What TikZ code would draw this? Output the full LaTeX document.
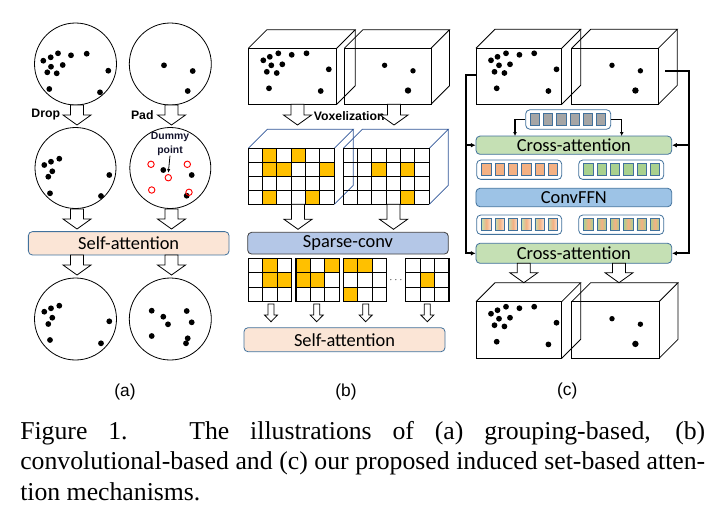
\documentclass[tikz,border=0pt]{standalone}
\usepackage{fontspec}
\setmainfont{Liberation Serif}
\newfontfamily\arialfont{Liberation Sans}
\newfontfamily\calfont{Carlito}
\usetikzlibrary{arrows.meta}
\definecolor{peach}{RGB}{251,229,214}
\definecolor{boxline}{RGB}{65,113,156}
\definecolor{sparseblue}{RGB}{180,199,231}
\definecolor{crossgreen}{RGB}{197,224,180}
\definecolor{ffnblue}{RGB}{157,195,230}
\definecolor{tokorange}{RGB}{244,177,131}
\definecolor{tokgreen}{RGB}{169,209,142}
\definecolor{tokgray}{RGB}{165,165,165}
\definecolor{voxyellow}{RGB}{255,192,0}
\definecolor{voxedge}{RGB}{47,85,151}
\definecolor{dummyred}{RGB}{255,0,0}
\definecolor{dummyblue}{RGB}{20,20,45}
\tikzset{
  cloud/.style={line width=0.6pt},
  opbox/.style={rounded corners=3pt, line width=0.6pt, inner sep=0pt, text=black, font=\calfont\fontsize{13.8}{16}\selectfont},
  selfbox/.style={opbox, draw=boxline, fill=peach},
  sparsebox/.style={opbox, draw=black!75, fill=sparseblue},
  crossbox/.style={opbox, draw=boxline, fill=crossgreen, minimum width=146.8pt},
  ffnbox/.style={opbox, draw=boxline, fill=ffnblue, minimum width=146.8pt},
  tokrow/.style={draw=boxline, fill=white, rounded corners=3pt, line width=0.6pt, minimum width=63.75pt, minimum height=14.5pt, inner sep=0pt},
  tokcell/.style={draw=boxline, line width=0.5pt},
  steplabel/.style={font=\arialfont\bfseries\fontsize{9.2}{10}\selectfont, inner sep=0pt},
  panellabel/.style={font=\arialfont\fontsize{13}{14}\selectfont, inner sep=0pt},
  feedline/.style={line width=1.3pt, -{Latex[length=3.5pt,width=3.5pt]}},
  hollow/.style={draw, fill=white, line width=0.6pt},
}
% big hollow arrow: x, top, tip
\newcommand{\hollowdown}[3]{\draw[hollow] (#1-6.5,#2) -- (#1+6.5,#2) -- (#1+6.5,#3-10) -- (#1+14,#3-10) -- (#1,#3) -- (#1-14,#3-10) -- (#1-6.5,#3-10) -- cycle;}
% small hollow arrow: x, top, tip
\newcommand{\thindown}[3]{\draw[hollow] (#1-3,#2) -- (#1+3,#2) -- (#1+3,#3-6.7) -- (#1+6.5,#3-6.7) -- (#1,#3) -- (#1-6.5,#3-6.7) -- (#1-3,#3-6.7) -- cycle;}
% cube: front x1,y1,x2,y2, depth
\newcommand{\wirecube}[5]{%
  \draw[line width=0.6pt] (#1,#2) rectangle (#3,#4);
  \draw[line width=0.6pt] (#1,#2) -- (#1+#5,#2-#5) -- (#3+#5,#2-#5) -- (#3,#2);
  \draw[line width=0.6pt] (#3+#5,#2-#5) -- (#3+#5,#4-#5) -- (#3,#4);}
% voxel grid 6x4: x0, y0, filled cells
\newcommand{\voxgrid}[3]{%
  \foreach \cc/\rr in {#3} \fill[voxyellow] (#1+\cc*14.33,#2+\rr*14) rectangle ++(14.33,14);
  \draw[voxedge, line width=0.6pt] (#1,#2) -- (#1+19,#2-19) -- (#1+105,#2-19) -- (#1+86,#2);
  \draw[voxedge, line width=0.6pt] (#1+105,#2-19) -- (#1+105,#2+37) -- (#1+86,#2+56);
  \foreach \k in {0,...,6} \draw[line width=0.8pt] (#1+\k*14.33,#2) -- ++(0,56);
  \foreach \k in {0,...,4} \draw[line width=0.8pt] (#1,#2+\k*14) -- ++(86,0);}
% 3x3 patch: x0, y0, filled cells
\newcommand{\patch}[3]{%
  \foreach \cc/\rr in {#3} \fill[voxyellow] (#1+\cc*14.44,#2+\rr*14.44) rectangle ++(14.44,14.44);
  \foreach \k in {0,...,3} {\draw[line width=0.8pt] (#1+\k*14.44,#2) -- ++(0,43.3); \draw[line width=0.8pt] (#1,#2+\k*14.44) -- ++(43.3,0);}}
% points inside the cubes
\newcommand{\densecloud}{\foreach \px/\py in {15/12,21.5/8.5,30/5,43.4/6.5,58.2/5,34/16,23/17,18.5/23.5,28.4/24.7,80.5/21,20.7/40,72.4/42.7} \fill (\px,\py) circle (2.9);}
\newcommand{\sparsecloud}{\foreach \px/\py in {40.3/17,68.7/22.5} \fill (\px,\py) circle (2.7); \fill (63.7,42.2) circle (3.2);}
\begin{document}
\begin{tikzpicture}[x=0.75pt,y=0.75pt,yscale=-1,xscale=1]
\useasboundingbox (0,0) rectangle (720,522);
%% (a) grouping-based
% point clouds
\draw[cloud] (75.5,64) circle (41);
\draw[cloud] (170.3,64) circle (41);
\draw[cloud] (75.5,168) circle (40.5);
\draw[cloud] (170.3,168) circle (40.5);
\draw[cloud] (75.5,319) circle (41);
\draw[cloud] (170.3,319) circle (41);
\foreach \px/\py in {43.3/60.7,50.7/57.3,58/53.3,71/55.3,86.7/53.7,51/66.7,62.7/65,47.3/72.3,56.7/73.3,108.3/70.7,49.3/89,100/92.3} \fill (\px,\py) circle (2.9);
\foreach \px/\py in {164/65.3,192.7/71,187.7/91} \fill (\px,\py) circle (2.9);
\foreach \px/\py in {44.3/165,51/161.7,59.3/158.7,52.3/171.3,48.3/176.7,109.3/175,50/193.3,101/196} \fill (\px,\py) circle (2.9);
\foreach \px/\py in {163.3/170,191.7/175,186.7/195.7} \fill (\px,\py) circle (2.9);
\foreach \px/\py in {151/164.3,187.3/164.3,168.3/177.7,151.7/190,189/192.3} \draw[dummyred, line width=0.7pt] (\px,\py) circle (3.2);
\foreach \px/\py in {44.3/311.7,51/308.3,59.3/305.7,52.3/317.7,48.3/324,109.3/321.3,50/340,101/343.3} \fill (\px,\py) circle (2.9);
\foreach \px/\py in {151.7/310.7,163.3/316.7,168/324.3,186.7/311,191.7/322.3,151.7/336,187.7/338.3,186/343.3} \fill (\px,\py) circle (2.9);
% Text Node
\node[steplabel] (drop) at (45.8,115) {Drop};
\node[steplabel] (pad) at (142.3,115) {Pad};
\node[font=\arialfont\bfseries\fontsize{7.8}{10.3}\selectfont, align=center, inner sep=0pt, text=dummyblue] (dummy) at (170,143.8) {Dummy\\point};
\coordinate (dummytip) at (168.3,173);
\draw[line width=0.6pt, -{Latex[length=3pt,width=2.5pt]}] (dummy.south) -- (dummytip);
\node[selfbox, minimum width=150.5pt, minimum height=17.5pt] (selfa) at (128.7,243.3) {Self-attention};
\hollowdown{77}{105}{125}
\hollowdown{171.5}{105}{125}
\hollowdown{77}{209}{229}
\hollowdown{171.5}{209}{229}
\hollowdown{77}{255}{275}
\hollowdown{171.5}{255}{275}
\node[panellabel] (labela) at (125,391.7) {(a)};
%% (b) convolutional-based
\wirecube{248.3}{48.3}{336.7}{104.3}{18.5}
\wirecube{344.3}{48.3}{431}{104.3}{18.5}
\begin{scope}[shift={(248.3,48.3)}] \densecloud \end{scope}
\begin{scope}[shift={(344.3,48.3)}] \sparsecloud \end{scope}
% Text Node
\node[steplabel] (voxlabel) at (349.2,116) {Voxelization};
\hollowdown{297.5}{104.3}{125}
\hollowdown{394}{104.3}{125}
\voxgrid{248.3}{148.3}{1/0,3/0,1/1,2/1,5/1,1/3,4/3}
\voxgrid{343.3}{148.3}{2/1,4/1,4/3}
\hollowdown{298}{204.3}{229.3}
\hollowdown{393.5}{204.3}{229.3}
\node[sparsebox, minimum width=150.5pt, minimum height=16.3pt] (sparse) at (348,243.2) {Sparse-conv};
\patch{248.3}{258.3}{1/0,1/1,2/1}
\patch{296}{258.3}{0/0,2/0,0/1,1/1}
\patch{343.3}{258.3}{0/0,1/0,0/2}
\patch{405.7}{258.3}{1/1}
\node[inner sep=0pt, font=\fontsize{7}{8}\selectfont] (dots) at (396,280) {$\cdots$};
\thindown{271}{304}{321.7}
\thindown{316.7}{304}{321.7}
\thindown{365.7}{304}{321.7}
\thindown{427.3}{304}{321.7}
\node[selfbox, minimum width=150.75pt, minimum height=18pt] (selfb) at (344.5,339.7) {Self-attention};
\node[panellabel] (labelb) at (346,391.7) {(b)};
%% (c) induced set-based
\wirecube{476}{48.3}{561.7}{104.3}{19}
\wirecube{571.7}{48.3}{658.3}{104.3}{19}
\begin{scope}[shift={(476,48.3)}] \densecloud \end{scope}
\begin{scope}[shift={(571.7,48.3)}] \sparsecloud \end{scope}
\node[tokrow] (induced) at (568.2,119.5) {};
\foreach \i in {0,...,5} \draw[tokcell, fill=tokgray] (530+13.3*\i,113.3) rectangle ++(9.3,12.3);
\node[crossbox, minimum height=13.7pt] (crossa) at (573.85,145.2) {Cross-attention};
\node[tokrow] (orangerow) at (519.2,169.7) {};
\node[tokrow] (greenrow) at (621.2,169.7) {};
\foreach \i in {0,...,5} {
  \draw[tokcell, fill=tokorange] (481.7+13.3*\i,163.5) rectangle ++(9.3,12.3);
  \draw[tokcell, fill=tokgreen] (583.7+13.3*\i,163.5) rectangle ++(9.3,12.3);}
\node[ffnbox, minimum height=13.8pt] (ffn) at (573.85,197.5) {ConvFFN};
\node[tokrow] (mixrowa) at (519.2,224.7) {};
\node[tokrow] (mixrowb) at (621.2,224.7) {};
\foreach \i in {0,...,5} {
  \draw[tokcell, left color=tokgreen!70, right color=tokorange!40, middle color=tokorange] (481.7+13.3*\i,218.5) rectangle ++(9.3,12.3);
  \draw[tokcell, left color=tokgreen, right color=tokgreen, middle color=tokorange] (583.7+13.3*\i,218.5) rectangle ++(9.3,12.3);}
\node[crossbox, minimum height=15pt] (crossb) at (573.85,253.3) {Cross-attention};
% connectors
\coordinate (ca1l) at (515,136);
\coordinate (ca1r) at (621.7,136);
\draw[line width=1.1pt, -{Latex[length=3pt,width=3pt]}] (induced.west) -| (ca1l);
\draw[line width=1.1pt, -{Latex[length=3pt,width=3pt]}] (induced.east) -| (ca1r);
\coordinate (lout) at (476,75);
\coordinate (lbend) at (465.7,75);
\coordinate (rout) at (665,71);
\coordinate (rbend) at (689.3,71);
\draw[feedline] (lout) -- (lbend) |- (crossa.west);
\draw[feedline] (lbend) |- (crossb.west);
\draw[feedline] (rout) -- (rbend) |- (crossa.east);
\draw[feedline] (rbend) |- (crossb.east);
\hollowdown{523.8}{263.3}{282.7}
\hollowdown{619}{263.3}{282.7}
\wirecube{476}{301.7}{561.7}{358.3}{19}
\wirecube{571.7}{301.7}{659}{358.3}{19}
\begin{scope}[shift={(476,301.7)}] \densecloud \end{scope}
\begin{scope}[shift={(571.7,301.7)}] \sparsecloud \end{scope}
\node[panellabel] (labelc) at (567.3,390.7) {(c)};
%% caption
\node[anchor=north west, inner sep=0pt, text width=513.75pt, align=justify, font=\fontsize{19.3}{22.9}\selectfont] (caption) at (20,421) {Figure 1.\hspace{2.4em}The illustrations of (a) grouping-based, (b)\linebreak convolutional-based and (c) our proposed induced set-based atten-\linebreak tion mechanisms.};
\end{tikzpicture}
\end{document}
